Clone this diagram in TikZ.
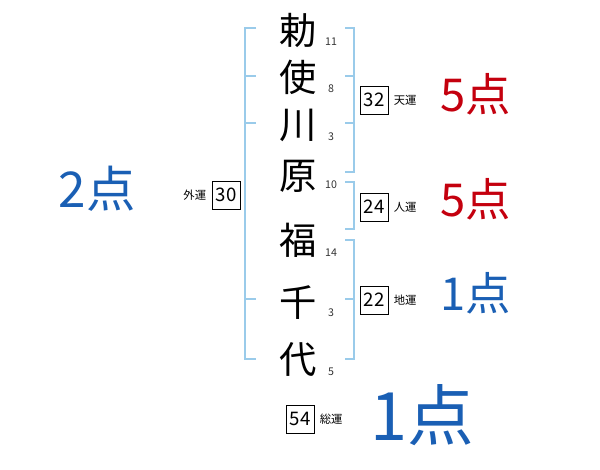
\documentclass[tikz,border=0pt]{standalone}
\usepackage{fontspec}
\setmainfont{Noto Sans CJK JP}
\usetikzlibrary{positioning}
\definecolor{pale}{HTML}{9ACBEA}
\definecolor{crimson}{HTML}{C4000E}
\definecolor{marine}{HTML}{1A5FB4}
\tikzset{
    kanji/.style={font=\fontsize{28}{28}\selectfont,inner sep=0pt},
    strokes/.style={font=\fontsize{8}{8}\selectfont,text=black!80,inner sep=0pt},
    tally/.style={draw,thin,minimum width=21pt,minimum height=21pt,inner sep=0pt,font=\fontsize{14}{14}\selectfont},
    luck/.style={font=\fontsize{8.5}{8.5}\selectfont,inner sep=0pt},
    score/.style={font=\fontsize{#1}{#1}\selectfont,inner sep=0pt},
    rail/.style={pale,line width=1.5pt}
}
\begin{document}
\begin{tikzpicture}[x=0.75pt,y=-0.75pt]
    \useasboundingbox (0,0) rectangle (600,470);
    \draw[rail] (256,28) -- (245,28) -- (245,359) -- (256,359);
    \foreach \y in {76,123,299} {\draw[rail] (245,\y) -- (256,\y);}
    \draw[rail] (345,28) -- (354,28) -- (354,172) -- (345,172);
    \draw[rail] (345,182) -- (354,182) -- (354,229) -- (345,229);
    \draw[rail] (345,240) -- (354,240) -- (354,359) -- (345,359);
    \foreach \y in {76,123,299} {\draw[rail] (345,\y) -- (354,\y);}
    \foreach \c/\y/\n/\m [count=\i] in {勅/30/11/42,使/77/8/89,川/125/3/137,原/176/10/185,福/240/14/253,千/303/3/313,代/360/5/372} {
        \node[kanji] (k\i) at (298,\y) {\c};
        \node[strokes] (s\i) at (331,\m) {\n};
    }
    \node[tally] (ten) at (374,100) {32}; \node[luck,right=4pt of ten] (tenl) {天運};
    \node[tally] (jin) at (374,207) {24}; \node[luck,right=4pt of jin] (jinl) {人運};
    \node[tally] (chi) at (374,300) {22}; \node[luck,right=4pt of chi] (chil) {地運};
    \node[tally] (gai) at (226,195) {30}; \node[luck,left=4pt of gai] (gail) {外運};
    \node[tally] (sou) at (300,419) {54}; \node[luck,right=4pt of sou] (soul) {総運};
    \node[score=34,crimson] (pten) at (476,94) {5点};
    \node[score=34,crimson] (pjin) at (476,199) {5点};
    \node[score=34,marine] (pchi) at (476,293) {1点};
    \node[score=37,marine] (pgai) at (97,189) {2点};
    \node[score=50,marine] (psou) at (422,415) {1点};
\end{tikzpicture}
\end{document}
